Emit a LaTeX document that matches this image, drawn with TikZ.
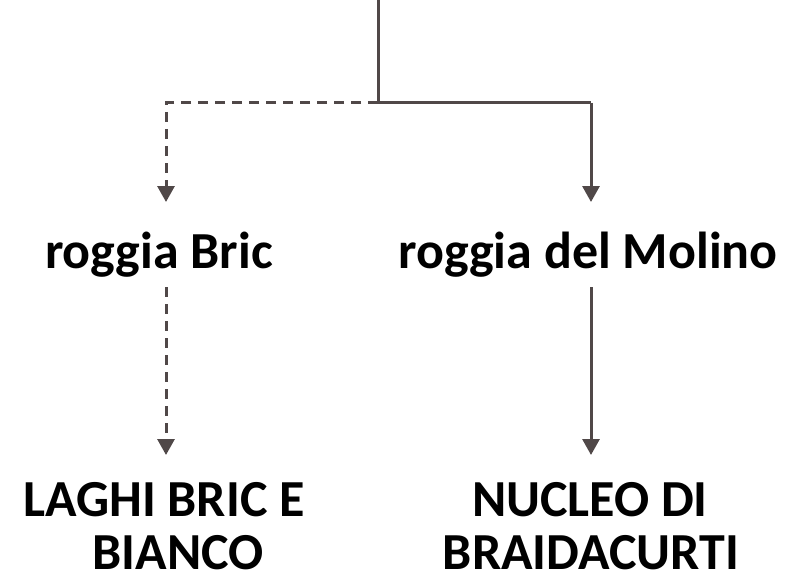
\documentclass[tikz,border=0pt]{standalone}
\usepackage{fontspec}
\setmainfont{Carlito}
\usetikzlibrary{arrows.meta}
\definecolor{linec}{RGB}{80,72,72}
\begin{document}
\begin{tikzpicture}[x=1pt,y=-1pt,
  lbl/.style={font=\fontsize{52}{53}\selectfont\bfseries, inner sep=0pt, align=center},
  conn/.style={draw=linec, line width=3pt},
  dashconn/.style={draw=linec, line width=3pt, dash pattern=on 10pt off 7pt},
  tip/.style={-{Triangle[width=17pt,length=16pt]}}]
\useasboundingbox (0,0) rectangle (800,583);
% nodes
\node[lbl, anchor=base] (bric) at (159,268) {roggia Bric};
\node[lbl, anchor=base] (molino) at (588,268) {roggia del Molino};
\node[lbl, anchor=base] (laghi) at (164,516) {LAGHI BRIC E};
\node[lbl, anchor=base] (bianco) at (178,569) {BIANCO};
\node[lbl, anchor=base] (nucleo) at (590,516) {NUCLEO DI};
\node[lbl, anchor=base] (braida) at (591,569) {BRAIDACURTI};
% coordinates
\coordinate (top) at (378,0);
\coordinate (j) at (378,103);
\coordinate (jl) at (166,103);
\coordinate (jr) at (591,103);
\coordinate (bricin) at (166,202);
\coordinate (molin) at (591,202);
\coordinate (bricout) at (166,287);
\coordinate (molout) at (591,287);
\coordinate (laghiin) at (166,455);
\coordinate (nucin) at (591,455);
% connectors
\draw[conn] (top) -- (j) -- (jr);
\draw[conn, tip] (jr) -- (molin);
\draw[dashconn, tip] (j) -- (jl) -- (bricin);
\draw[dashconn, tip] (bricout) -- (laghiin);
\draw[conn, tip] (molout) -- (nucin);
\end{tikzpicture}
\end{document}
